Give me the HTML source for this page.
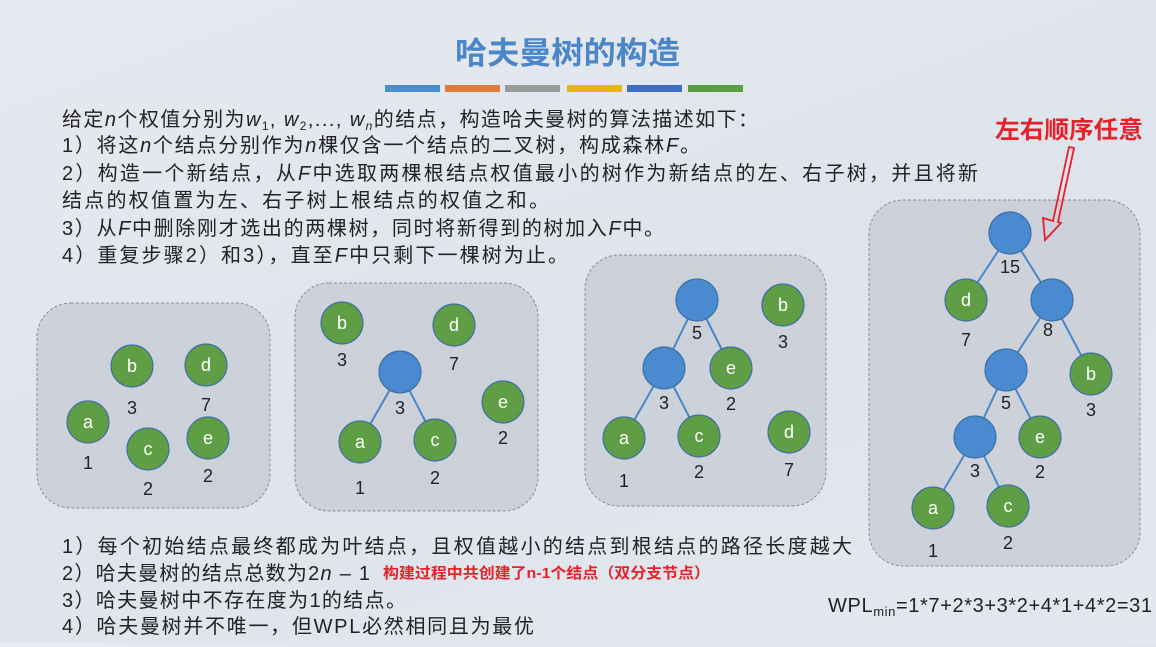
<!DOCTYPE html>
<html><head><meta charset="utf-8"><style>
html,body{margin:0;padding:0}
body{width:1156px;height:642px;overflow:hidden;background:linear-gradient(160deg,#e6e9ef 0%,#dfe4ec 50%,#e3e7ee 100%);font-family:"Liberation Sans","Noto Sans CJK SC",sans-serif}
svg text{font-family:"Liberation Sans","Noto Sans CJK SC",sans-serif}
</style></head><body>
<svg width="1156" height="642" viewBox="0 0 1156 642" xmlns="http://www.w3.org/2000/svg">
<text x="455" y="64" textLength="225" lengthAdjust="spacingAndGlyphs" font-size="31" fill="#4a86c8" font-weight="bold">哈夫曼树的构造</text>
<rect x="385" y="85" width="55" height="7" fill="#4a8fd0"/>
<rect x="445" y="85" width="55" height="7" fill="#e07b39"/>
<rect x="505" y="85" width="55" height="7" fill="#9a9a9a"/>
<rect x="567" y="85" width="55" height="7" fill="#e8b41c"/>
<rect x="627" y="85" width="55" height="7" fill="#3e6fc2"/>
<rect x="688" y="85" width="55" height="7" fill="#5aa043"/>
<g font-size="20" fill="#222">
<text x="62" y="126" textLength="696" lengthAdjust="spacing">给定<tspan font-style="italic">n</tspan>个权值分别为<tspan font-style="italic">w</tspan><tspan font-size="12" dy="4">1</tspan><tspan dy="-4">, </tspan><tspan font-style="italic">w</tspan><tspan font-size="12" dy="4">2</tspan><tspan dy="-4">,..., </tspan><tspan font-style="italic">w</tspan><tspan font-size="12" dy="4" font-style="italic">n</tspan><tspan dy="-4">的结点，构造哈夫曼树的算法描述如下：</tspan></text>
<text x="62" y="152" textLength="638" lengthAdjust="spacing">1）将这<tspan font-style="italic">n</tspan>个结点分别作为<tspan font-style="italic">n</tspan>棵仅含一个结点的二叉树，构成森林<tspan font-style="italic">F</tspan>。</text>
<text x="62" y="180" textLength="916" lengthAdjust="spacing">2）构造一个新结点，从<tspan font-style="italic">F</tspan>中选取两棵根结点权值最小的树作为新结点的左、右子树，并且将新</text>
<text x="62" y="207" textLength="487" lengthAdjust="spacing">结点的权值置为左、右子树上根结点的权值之和。</text>
<text x="62" y="235" textLength="602" lengthAdjust="spacing">3）从<tspan font-style="italic">F</tspan>中删除刚才选出的两棵树，同时将新得到的树加入<tspan font-style="italic">F</tspan>中。</text>
<text x="62" y="262" textLength="506" lengthAdjust="spacing">4）重复步骤2）和3），直至<tspan font-style="italic">F</tspan>中只剩下一棵树为止。</text>
</g>
<g fill="#c9ced6" fill-opacity="0.85" stroke="#8a8f96" stroke-dasharray="3,2" stroke-width="1">
<rect x="37" y="303" width="233" height="205" rx="34"/>
<rect x="295" y="283" width="243" height="228" rx="34"/>
<rect x="585" y="255" width="241" height="251" rx="34"/>
<rect x="869" y="200" width="271" height="366" rx="34"/>
</g>
<g stroke="#4a86c8" stroke-width="2">
<line x1="400" y1="372" x2="360" y2="442"/><line x1="400" y1="372" x2="435" y2="440"/>
<line x1="697" y1="300" x2="664" y2="368"/><line x1="697" y1="300" x2="731" y2="368"/>
<line x1="664" y1="368" x2="624" y2="438"/><line x1="664" y1="368" x2="699" y2="436"/>
<line x1="1010" y1="233" x2="966" y2="300"/><line x1="1010" y1="233" x2="1052" y2="300"/>
<line x1="1052" y1="300" x2="1006" y2="370"/><line x1="1052" y1="300" x2="1091" y2="374"/>
<line x1="1006" y1="370" x2="975" y2="437"/><line x1="1006" y1="370" x2="1040" y2="437"/>
<line x1="975" y1="437" x2="933" y2="508"/><line x1="975" y1="437" x2="1008" y2="506"/>
</g>
<g stroke="#3d6fa8" stroke-width="1.2">
<g fill="#5f9e44">
<circle cx="132" cy="366" r="21"/><circle cx="206" cy="365" r="21"/><circle cx="88" cy="422" r="21"/><circle cx="148" cy="449" r="21"/><circle cx="208" cy="438" r="21"/>
<circle cx="342" cy="323" r="21"/><circle cx="454" cy="325" r="21"/><circle cx="360" cy="442" r="21"/><circle cx="435" cy="440" r="21"/><circle cx="503" cy="402" r="21"/>
<circle cx="783" cy="305" r="21"/><circle cx="731" cy="368" r="21"/><circle cx="624" cy="438" r="21"/><circle cx="699" cy="436" r="21"/><circle cx="789" cy="432" r="21"/>
<circle cx="966" cy="300" r="21"/><circle cx="1091" cy="374" r="21"/><circle cx="1040" cy="437" r="21"/><circle cx="933" cy="508" r="21"/><circle cx="1008" cy="506" r="21"/>
</g>
<g fill="#4a8ad0">
<circle cx="400" cy="372" r="21"/><circle cx="697" cy="300" r="21"/><circle cx="664" cy="368" r="21"/>
<circle cx="1010" cy="233" r="21"/><circle cx="1052" cy="300" r="21"/><circle cx="1006" cy="370" r="21"/><circle cx="975" cy="437" r="21"/>
</g>
</g>
<g font-size="18" fill="#fff" text-anchor="middle">
<text x="132" y="372">b</text><text x="206" y="371">d</text><text x="88" y="428">a</text><text x="148" y="455">c</text><text x="208" y="444">e</text>
<text x="342" y="329">b</text><text x="454" y="331">d</text><text x="360" y="448">a</text><text x="435" y="446">c</text><text x="503" y="408">e</text>
<text x="783" y="311">b</text><text x="731" y="374">e</text><text x="624" y="444">a</text><text x="699" y="442">c</text><text x="789" y="438">d</text>
<text x="966" y="306">d</text><text x="1091" y="380">b</text><text x="1040" y="443">e</text><text x="933" y="514">a</text><text x="1008" y="512">c</text>
</g>
<g font-size="18" fill="#222" text-anchor="middle">
<text x="132" y="414">3</text><text x="206" y="411">7</text><text x="88" y="469">1</text><text x="148" y="495">2</text><text x="208" y="482">2</text>
<text x="342" y="366">3</text><text x="454" y="370">7</text><text x="400" y="414">3</text><text x="360" y="494">1</text><text x="435" y="484">2</text><text x="503" y="444">2</text>
<text x="697" y="339">5</text><text x="783" y="348">3</text><text x="664" y="409">3</text><text x="731" y="410">2</text><text x="624" y="487">1</text><text x="699" y="478">2</text><text x="789" y="476">7</text>
<text x="1010" y="273">15</text><text x="966" y="346">7</text><text x="1048" y="336">8</text><text x="1006" y="409">5</text><text x="1091" y="416">3</text><text x="975" y="477">3</text><text x="1040" y="478">2</text><text x="933" y="557">1</text><text x="1008" y="549">2</text>
</g>
<text x="995" y="138" textLength="148" lengthAdjust="spacingAndGlyphs" font-size="24" font-weight="bold" fill="#e8202a">左右顺序任意</text>
<g fill="none" stroke="#e8202a" stroke-width="1.8">
<path d="M1074,148 L1058,222 L1061,223 L1045,240 L1043,218 L1053,221 L1069,147 Z"/>
</g>
<g font-size="20" fill="#222">
<text x="62" y="553" textLength="790" lengthAdjust="spacing">1）每个初始结点最终都成为叶结点，且权值越小的结点到根结点的路径长度越大</text>
<text x="62" y="580" textLength="308" lengthAdjust="spacing">2）哈夫曼树的结点总数为2<tspan font-style="italic">n</tspan> – 1</text>
<text x="62" y="607" textLength="344" lengthAdjust="spacing">3）哈夫曼树中不存在度为1的结点。</text>
<text x="62" y="633" textLength="472" lengthAdjust="spacing">4）哈夫曼树并不唯一，但WPL必然相同且为最优</text>
<text x="828" y="612" textLength="324" lengthAdjust="spacing">WPL<tspan font-size="13" dy="4">min</tspan><tspan dy="-4">=1*7+2*3+3*2+4*1+4*2=31</tspan></text>
</g>
<text x="383" y="578" textLength="327" lengthAdjust="spacingAndGlyphs" font-size="15" font-weight="bold" fill="#e8202a">构建过程中共创建了n-1个结点（双分支节点）</text>
</svg>
</body></html>
